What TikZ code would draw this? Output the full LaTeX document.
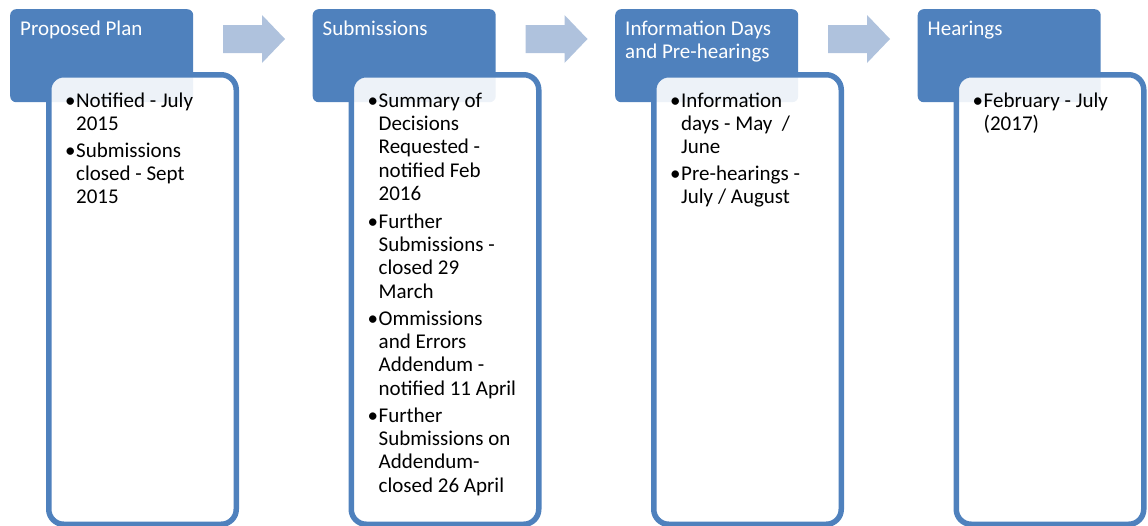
\documentclass[tikz,border=0pt]{standalone}
\usepackage{fontspec}
\setmainfont{Carlito}
\definecolor{hdr}{HTML}{4F81BD}
\definecolor{arr}{HTML}{AFC2DD}
\newcommand{\bul}{\llap{\makebox[11pt][l]{•}}}
\newcommand{\stack}[1]{\vtop{\baselineskip=23.4pt\lineskiplimit=-20pt\halign{##\hfil\cr #1\crcr}}}
\begin{document}
\begin{tikzpicture}[x=1pt,y=-1pt,
  header/.style={fill=hdr, rounded corners=6pt, minimum width=183pt, minimum height=93pt, anchor=north west, inner sep=0pt},
  panel/.style={draw=hdr, line width=5.5pt, fill=white, fill opacity=0.9, draw opacity=1, rounded corners=15pt, minimum width=187.5pt, minimum height=449.5pt, anchor=north west, inner sep=0pt},
  flowarrow/.style={fill=arr},
  htext/.style={text=white, anchor=base west, inner sep=0pt, font=\fontsize{21}{23.4}\selectfont},
  btext/.style={text=black, anchor=base west, inner sep=0pt, font=\fontsize{21}{23.4}\selectfont}]
\useasboundingbox (0,0) rectangle (1148,525);
% headers
\node[header] (h1) at (10,9) {};
\node[header] (h2) at (312.5,9) {};
\node[header] (h3) at (615,9) {};
\node[header] (h4) at (917.5,9) {};
% panels
\node[panel] (p1) at (46,72) {};
\node[panel] (p2) at (348.5,72) {};
\node[panel] (p3) at (651,72) {};
\node[panel] (p4) at (953.5,72) {};
% arrows
\foreach \ax in {223,525.5,828}{
  \fill[flowarrow] (\ax,25) -- (\ax+39,25) -- (\ax+39,15) -- (\ax+62,39) -- (\ax+39,63) -- (\ax+39,53) -- (\ax,53) -- cycle;
}
% header texts
\node[htext] (t1) at (20,35) {Proposed Plan};
\node[htext] (t2) at (322.5,35) {Submissions};
\node[htext] (t3) at (625,35) {\stack{Information Days\cr and Pre-hearings}};
\node[htext] (t4) at (927.5,35) {Hearings};
% panel texts
\node[btext] (a1) at (76,107) {\stack{\bul Notified - July\cr 2015}};
\node[btext] (a2) at (76,157) {\stack{\bul Submissions\cr closed - Sept\cr 2015}};
\node[btext] (b1) at (378.5,107) {\stack{\bul Summary of\cr Decisions\cr Requested -\cr notified Feb\cr 2016}};
\node[btext] (b2) at (378.5,228) {\stack{\bul Further\cr Submissions -\cr closed 29\cr March}};
\node[btext] (b3) at (378.5,325) {\stack{\bul Ommissions\cr and Errors\cr Addendum -\cr notified 11 April}};
\node[btext] (b4) at (378.5,422) {\stack{\bul Further\cr Submissions on\cr Addendum-\cr closed 26 April}};
\node[btext] (c1) at (681,107) {\stack{\bul Information\cr days - May~~/\cr June}};
\node[btext] (c2) at (681,180) {\stack{\bul Pre-hearings -\cr July / August}};
\node[btext] (d1) at (983.5,107) {\stack{\bul February - July\cr (2017)}};
\end{tikzpicture}
\end{document}
